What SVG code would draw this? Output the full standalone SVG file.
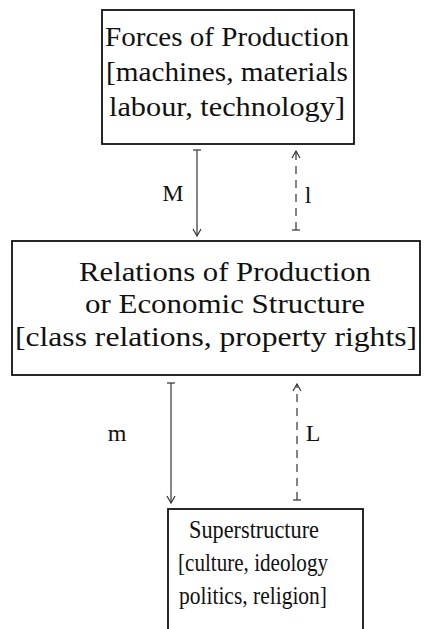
<svg xmlns="http://www.w3.org/2000/svg" width="424" height="629" viewBox="0 0 424 629">
<style>
.box{fill:none;stroke:#111;stroke-width:1.8}
.t{font-family:"Liberation Serif","DejaVu Serif",serif;font-size:27px;fill:#111;text-anchor:middle}
.s{font-size:25.5px}
.lab{font-family:"Liberation Serif","DejaVu Serif",serif;font-size:24px;fill:#111;text-anchor:middle}
.a{fill:none;stroke:#333;stroke-width:1.2}
.d{stroke-dasharray:8,6}
</style>
<defs>
<marker id="ah" markerWidth="12" markerHeight="10" refX="11" refY="5" orient="auto-start-reverse" markerUnits="userSpaceOnUse" viewBox="0 0 12 10">
<path d="M4,1 L11,5 L4,9" fill="none" stroke="#333" stroke-width="1.2"/>
</marker>
</defs>
<rect width="424" height="629" fill="#fff"/>
<g id="forces">
<rect class="box" x="102" y="10" width="252" height="134"/>
<text class="t" x="227" y="46" textLength="244" lengthAdjust="spacingAndGlyphs">Forces of Production</text>
<text class="t" x="227" y="81" textLength="242" lengthAdjust="spacingAndGlyphs">[machines, materials</text>
<text class="t" x="227" y="116" textLength="236" lengthAdjust="spacingAndGlyphs">labour, technology]</text>
</g>
<g id="relations">
<rect class="box" x="12" y="241" width="408" height="134"/>
<text class="t" x="225" y="281" textLength="292" lengthAdjust="spacingAndGlyphs">Relations of Production</text>
<text class="t" x="225" y="313" textLength="280" lengthAdjust="spacingAndGlyphs">or Economic Structure</text>
<text class="t" x="216" y="346" textLength="402" lengthAdjust="spacingAndGlyphs">[class relations, property rights]</text>
</g>
<g id="superstructure">
<rect class="box" x="168" y="509" width="195" height="140"/>
<text class="t s" x="254" y="538" textLength="130" lengthAdjust="spacingAndGlyphs">Superstructure</text>
<text class="t s" x="253" y="571" textLength="150" lengthAdjust="spacingAndGlyphs">[culture, ideology</text>
<text class="t s" x="253" y="604" textLength="148" lengthAdjust="spacingAndGlyphs">politics, religion]</text>
</g>
<g id="connectors">
<line class="a" x1="197" y1="150" x2="197" y2="236" marker-end="url(#ah)"/>
<line class="a" x1="193" y1="150" x2="201" y2="150"/>
<line class="a d" x1="296" y1="230" x2="296" y2="151" marker-end="url(#ah)"/>
<line class="a" x1="292" y1="230" x2="300" y2="230"/>
<line class="a" x1="171" y1="383" x2="171" y2="503" marker-end="url(#ah)"/>
<line class="a" x1="167" y1="383" x2="175" y2="383"/>
<line class="a d" x1="297" y1="500" x2="297" y2="384" marker-end="url(#ah)"/>
<line class="a" x1="293" y1="500" x2="301" y2="500"/>
<text class="lab" x="173" y="201">M</text>
<text class="lab" x="308" y="203">l</text>
<text class="lab" x="117" y="441">m</text>
<text class="lab" x="313" y="441">L</text>
</g>
</svg>
